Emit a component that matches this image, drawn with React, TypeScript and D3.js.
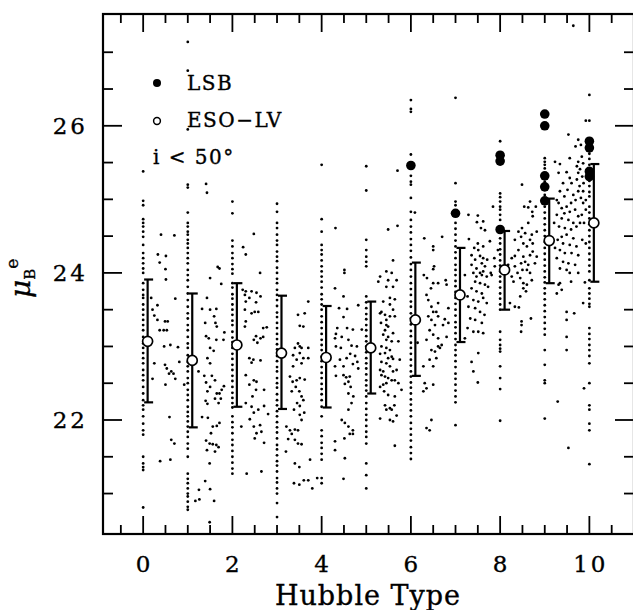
import React from 'react';
import * as d3 from 'd3';

// ---------- data ----------
const HUBBLE_TYPES = [0, 1, 2, 3, 4, 5, 6, 7, 8, 9, 10];

// ESO-LV galaxies with integer Hubble type (mu_B^e values)
const COL_0 = [25.38, 24.98, 24.92, 24.73, 24.68, 24.63, 24.56, 24.49, 24.38, 24.27, 24.2, 24.13, 24.06, 24.0, 23.86, 23.77, 23.7, 23.66, 23.57, 23.5, 23.43, 23.36, 23.29, 23.22, 23.13, 23.04, 22.98, 22.91, 22.84, 22.77, 22.68, 22.61, 22.54, 22.45, 22.36, 22.27, 22.2, 22.14, 22.05, 21.95, 21.86, 21.8, 21.5, 21.41, 21.36, 21.32, 20.81];
const COL_1 = [27.14, 26.75, 25.95, 25.2, 25.16, 24.82, 24.68, 24.63, 24.56, 24.52, 24.45, 24.4, 24.34, 24.27, 24.2, 24.13, 24.04, 23.97, 23.9, 23.81, 23.72, 23.63, 23.54, 23.45, 23.38, 23.29, 23.22, 23.13, 23.04, 22.98, 22.88, 22.79, 22.73, 22.66, 22.57, 22.5, 22.41, 22.34, 22.27, 22.18, 22.11, 22.05, 21.98, 21.91, 21.84, 21.77, 21.68, 21.61, 21.5, 21.27, 21.2, 21.14, 21.07, 21.0, 20.96, 20.89, 20.82, 20.78];
const COL_2 = [24.97, 24.81, 24.44, 24.36, 24.27, 24.2, 24.12, 24.05, 23.99, 23.86, 23.8, 23.71, 23.65, 23.57, 23.5, 23.43, 23.35, 23.29, 23.2, 23.12, 23.06, 22.98, 22.9, 22.83, 22.75, 22.68, 22.6, 22.53, 22.45, 22.37, 22.3, 22.23, 22.17, 22.05, 21.97, 21.9, 21.82, 21.73, 21.66, 21.58, 21.5, 21.42, 21.34, 21.27];
const COL_3 = [24.94, 24.83, 24.68, 24.61, 24.52, 24.44, 24.38, 24.29, 24.22, 24.16, 24.07, 24.0, 23.92, 23.86, 23.77, 23.7, 23.63, 23.55, 23.46, 23.4, 23.32, 23.25, 23.17, 23.1, 23.03, 22.96, 22.87, 22.8, 22.72, 22.66, 22.57, 22.5, 22.44, 22.35, 22.27, 22.2, 22.12, 22.05, 21.97, 21.9, 21.83, 21.75, 21.66, 21.6, 21.52, 21.44, 21.38, 21.3, 21.21, 21.15, 21.07, 21.0, 20.87, 20.68];
const COL_4 = [25.47, 24.73, 24.56, 24.38, 24.31, 24.25, 24.17, 24.09, 24.02, 23.95, 23.88, 23.8, 23.71, 23.64, 23.57, 23.5, 23.41, 23.33, 23.25, 23.17, 23.09, 23.02, 22.95, 22.86, 22.8, 22.72, 22.64, 22.57, 22.49, 22.42, 22.35, 22.27, 22.18, 22.05, 21.86, 21.78, 21.69, 21.62, 21.54, 21.46, 21.21, 21.14];
const COL_5 = [25.45, 25.12, 24.45, 24.31, 24.22, 24.15, 24.09, 23.68, 23.6, 23.52, 23.44, 23.37, 23.29, 23.22, 23.14, 23.07, 23.0, 22.92, 22.84, 22.77, 22.7, 22.62, 22.54, 22.47, 22.4, 22.32, 22.23, 22.15, 22.07, 22.0, 21.92, 21.84, 21.77, 21.68, 21.41, 21.25, 21.07];
const COL_6 = [26.35, 26.23, 26.19, 25.61, 25.32, 25.24, 25.2, 25.02, 24.83, 24.72, 24.63, 24.55, 24.46, 24.38, 24.3, 24.21, 24.12, 24.04, 23.95, 23.86, 23.78, 23.7, 23.61, 23.54, 23.45, 23.38, 23.3, 23.21, 23.14, 23.05, 22.98, 22.9, 22.82, 22.74, 22.66, 22.59, 22.51, 22.44, 22.36, 22.28, 22.21, 22.13, 22.05, 21.96, 21.88, 21.8, 21.72, 21.63, 21.55, 21.47];
const COL_7 = [26.38, 25.22, 24.97, 24.92, 24.68, 24.6, 24.52, 24.44, 24.36, 24.28, 24.2, 24.11, 24.04, 23.97, 23.89, 23.82, 23.74, 23.66, 23.58, 23.5, 23.42, 23.33, 23.26, 23.18, 23.1, 23.02, 22.95, 22.88, 22.8, 22.72, 22.63, 22.56, 22.48, 22.4, 22.32, 22.24, 21.93];
const COL_8 = [25.79, 25.08, 25.03, 24.97, 24.9, 24.86, 24.79, 24.72, 24.55, 24.47, 24.4, 24.32, 24.25, 24.17, 24.1, 24.02, 23.95, 23.88, 23.8, 23.72, 23.65, 23.57, 23.5, 23.2, 23.09, 23.02, 22.97, 22.93, 22.73, 22.57, 22.42, 21.99];
const COL_9 = [25.56, 25.51, 25.47, 25.42, 25.24, 25.06, 24.9, 24.82, 24.74, 24.66, 24.58, 24.5, 24.42, 24.34, 24.26, 24.18, 24.1, 24.02, 23.94, 23.87, 23.79, 23.72, 23.64, 23.56, 23.48, 23.4, 23.32, 23.24, 23.16, 22.95, 22.75, 22.54, 22.5, 22.02];
const COL_10 = [26.42, 26.07, 25.62, 25.55, 25.47, 25.4, 25.33, 25.25, 25.18, 25.1, 25.04, 24.9, 24.82, 24.74, 24.66, 24.58, 24.5, 24.42, 24.34, 24.26, 24.18, 24.1, 24.02, 23.9, 23.79, 23.72, 23.65, 23.58, 23.54, 23.25, 23.17, 23.1, 23.02, 22.95, 22.87, 22.77, 22.5, 22.2, 22.14, 21.95, 21.86, 21.4];
const COLUMN_MU = [COL_0, COL_1, COL_2, COL_3, COL_4, COL_5, COL_6, COL_7, COL_8, COL_9, COL_10];

// ESO-LV galaxies with non-integer type: [type, mu]
const GAP_0 = [[0.40, 24.52], [0.70, 24.51], [0.33, 24.25], [0.51, 24.23], [0.37, 24.14], [0.50, 24.05], [0.51, 23.91], [0.18, 23.66], [0.72, 23.65], [0.32, 23.56], [0.21, 23.50], [0.25, 23.42], [0.32, 23.36], [0.49, 23.34], [0.55, 23.34], [0.37, 23.22], [0.46, 23.22], [0.53, 23.22], [0.61, 23.02], [0.47, 23.00], [0.78, 22.99], [0.81, 22.79], [0.25, 22.77], [0.49, 22.75], [0.53, 22.70], [0.63, 22.66], [0.68, 22.63], [0.58, 22.63], [0.72, 22.56], [0.50, 22.48], [0.21, 22.56], [0.92, 22.48], [0.59, 22.04], [0.63, 21.73], [0.70, 21.68], [0.38, 21.44], [0.61, 21.46]];
const GAP_1 = [[1.41, 25.21], [1.43, 25.09], [1.67, 24.08], [1.71, 24.06], [1.50, 23.93], [1.75, 23.85], [1.43, 23.66], [1.32, 23.51], [1.50, 23.50], [1.64, 23.51], [1.59, 23.41], [1.39, 23.32], [1.62, 23.32], [1.65, 23.27], [1.82, 23.19], [1.41, 23.14], [1.47, 23.11], [1.64, 23.09], [1.80, 23.09], [1.50, 22.98], [1.58, 22.94], [1.44, 22.84], [1.50, 22.77], [1.24, 22.66], [1.37, 22.60], [1.54, 22.60], [1.41, 22.51], [1.61, 22.54], [1.50, 22.45], [1.44, 22.39], [1.65, 22.36], [1.81, 22.46], [1.76, 22.41], [1.71, 22.36], [1.61, 22.29], [1.74, 22.29], [1.40, 22.26], [1.44, 22.22], [1.69, 22.23], [1.32, 22.04], [1.45, 22.03], [1.56, 21.91], [1.65, 21.92], [1.71, 21.96], [1.52, 21.82], [1.41, 21.72], [1.49, 21.68], [1.56, 21.67], [1.64, 21.66], [1.69, 21.63], [1.43, 21.59], [1.61, 21.57], [1.49, 21.41], [1.39, 21.17], [1.50, 21.06], [1.25, 21.05], [1.17, 20.90], [1.26, 20.92], [1.59, 20.90], [1.49, 20.61]];
const GAP_2 = [[2.48, 24.53], [2.24, 24.35], [2.30, 24.25], [2.62, 24.00], [2.23, 23.77], [2.30, 23.75], [2.43, 23.75], [2.54, 23.73], [2.28, 23.70], [2.38, 23.66], [2.63, 23.68], [2.30, 23.61], [2.53, 23.60], [2.28, 23.50], [2.43, 23.45], [2.50, 23.47], [2.58, 23.47], [2.30, 23.34], [2.77, 23.26], [2.69, 23.25], [2.28, 23.27], [2.53, 23.14], [2.63, 23.11], [2.69, 23.13], [2.48, 23.09], [2.56, 23.05], [2.38, 22.84], [2.47, 22.82], [2.43, 22.78], [2.63, 22.81], [2.30, 22.61], [2.48, 22.54], [2.54, 22.52], [2.38, 22.48], [2.71, 22.41], [2.53, 22.41], [2.45, 22.32], [2.30, 22.23], [2.43, 22.18], [2.71, 22.19], [2.58, 22.14], [2.48, 22.10], [2.39, 22.01], [2.80, 22.08], [2.48, 21.91], [2.62, 21.93], [2.20, 21.91], [2.54, 21.82], [2.65, 21.84], [2.50, 21.75], [2.71, 21.69], [2.32, 21.27], [2.65, 21.30]];
const GAP_3 = [[3.70, 23.61], [3.47, 23.43], [3.62, 23.45], [3.51, 23.28], [3.59, 23.27], [3.47, 23.04], [3.51, 23.00], [3.55, 22.98], [3.40, 22.98], [3.70, 22.98], [3.36, 22.88], [3.51, 22.91], [3.59, 22.84], [3.70, 22.84], [3.44, 22.82], [3.55, 22.77], [3.36, 22.73], [3.29, 22.59], [3.35, 22.52], [3.44, 22.54], [3.51, 22.57], [3.62, 22.55], [3.42, 22.45], [3.33, 22.39], [3.50, 22.39], [3.55, 22.32], [3.59, 22.27], [3.45, 22.23], [3.51, 22.19], [3.38, 22.14], [3.61, 22.10], [3.51, 22.07], [3.55, 22.00], [3.21, 21.91], [3.29, 21.86], [3.40, 21.87], [3.47, 21.86], [3.33, 21.81], [3.25, 21.74], [3.40, 21.73], [3.47, 21.68], [3.55, 21.67], [3.20, 21.57], [3.74, 21.46], [3.40, 21.41], [3.50, 21.36], [3.38, 21.14], [3.50, 21.12], [3.60, 21.18], [3.70, 21.18], [3.79, 21.07], [3.90, 21.21]];
const GAP_4 = [[4.31, 24.61], [4.51, 24.04], [4.51, 24.00], [4.30, 23.79], [4.49, 23.68], [4.39, 23.52], [4.57, 23.51], [4.82, 23.56], [4.49, 23.40], [4.35, 23.25], [4.57, 23.25], [4.70, 23.23], [4.90, 23.23], [4.32, 23.17], [4.30, 23.11], [4.45, 23.13], [4.60, 23.09], [4.32, 23.00], [4.43, 22.98], [4.67, 23.01], [4.79, 23.00], [4.64, 22.90], [4.41, 22.82], [4.56, 22.84], [4.75, 22.87], [4.80, 22.79], [4.82, 22.70], [4.70, 22.76], [4.30, 22.73], [4.49, 22.73], [4.32, 22.60], [4.49, 22.61], [4.55, 22.58], [4.60, 22.52], [4.63, 22.59], [4.52, 22.49], [4.65, 22.45], [4.60, 22.36], [4.71, 22.32], [4.67, 22.23], [4.60, 22.14], [4.45, 22.00], [4.52, 21.96], [4.60, 21.91], [4.70, 21.86], [4.63, 21.81], [4.70, 21.81], [4.51, 21.75], [4.30, 21.71], [4.30, 21.59], [4.52, 21.48], [4.49, 21.20]];
const GAP_5 = [[5.70, 25.39], [5.49, 24.59], [5.70, 24.64], [5.60, 24.17], [5.31, 23.95], [5.45, 24.02], [5.57, 24.00], [5.27, 23.88], [5.49, 23.90], [5.68, 23.90], [5.60, 23.81], [5.45, 23.81], [5.53, 23.66], [5.38, 23.61], [5.64, 23.64], [5.53, 23.57], [5.34, 23.47], [5.60, 23.50], [5.31, 23.45], [5.42, 23.43], [5.53, 23.41], [5.64, 23.41], [5.45, 23.36], [5.33, 23.32], [5.45, 23.29], [5.49, 23.27], [5.42, 23.22], [5.60, 23.18], [5.38, 23.16], [5.49, 23.13], [5.45, 23.09], [5.57, 23.07], [5.72, 23.07], [5.34, 23.00], [5.45, 22.98], [5.53, 22.95], [5.42, 22.91], [5.31, 22.90], [5.57, 22.86], [5.49, 22.84], [5.60, 22.83], [5.75, 22.82], [5.34, 22.79], [5.45, 22.77], [5.53, 22.73], [5.31, 22.68], [5.38, 22.66], [5.60, 22.66], [5.68, 22.68], [5.34, 22.61], [5.42, 22.59], [5.49, 22.57], [5.57, 22.54], [5.64, 22.54], [5.31, 22.45], [5.38, 22.48], [5.45, 22.50], [5.72, 22.50], [5.79, 22.41], [5.40, 22.39], [5.49, 22.34], [5.64, 22.32], [5.42, 22.20], [5.53, 22.16], [5.63, 22.20], [5.45, 22.14], [5.57, 22.14], [5.31, 22.02], [5.53, 22.00], [5.60, 21.98], [5.68, 22.06], [5.64, 21.65]];
const GAP_6 = [[6.09, 24.82], [6.30, 24.47], [6.70, 24.49], [6.50, 24.36], [6.50, 24.31], [6.52, 24.09], [6.50, 24.05], [6.29, 23.97], [6.36, 23.93], [6.50, 23.86], [6.61, 23.86], [6.78, 23.90], [6.80, 23.84], [6.45, 23.79], [6.35, 23.70], [6.39, 23.63], [6.61, 23.59], [6.46, 23.54], [6.50, 23.47], [6.57, 23.47], [6.84, 23.52], [6.39, 23.41], [6.61, 23.41], [6.46, 23.36], [6.76, 23.37], [6.84, 23.32], [6.54, 23.29], [6.72, 23.29], [6.42, 23.22], [6.50, 23.16], [6.35, 23.09], [6.61, 23.11], [6.80, 23.13], [6.46, 22.95], [6.61, 23.00], [6.54, 22.93], [6.69, 23.02], [6.65, 22.98], [6.57, 22.84], [6.42, 22.82], [6.28, 22.73], [6.50, 22.73], [6.31, 22.50], [6.35, 22.43], [6.28, 22.39], [6.50, 22.48], [6.46, 22.00], [6.35, 21.89], [6.42, 21.86], [6.15, 23.05]];
const GAP_7 = [[7.29, 24.79], [7.50, 24.78], [7.48, 24.69], [7.62, 24.70], [7.57, 24.61], [7.66, 24.58], [7.84, 24.90], [7.77, 24.43], [7.62, 24.36], [7.50, 24.40], [7.30, 24.46], [7.42, 24.34], [7.51, 24.31], [7.36, 24.24], [7.55, 24.23], [7.62, 24.20], [7.44, 24.18], [7.59, 24.13], [7.66, 24.09], [7.47, 24.06], [7.36, 24.11], [7.40, 24.00], [7.55, 24.00], [7.62, 24.02], [7.71, 24.18], [7.87, 24.20], [7.88, 24.09], [7.79, 24.00], [7.95, 24.31], [7.21, 23.97], [7.47, 23.95], [7.59, 23.97], [7.70, 23.95], [7.81, 23.97], [7.44, 23.88], [7.55, 23.86], [7.66, 23.84], [7.73, 23.81], [7.36, 23.79], [7.47, 23.75], [7.59, 23.72], [7.27, 23.68], [7.40, 23.63], [7.51, 23.61], [7.62, 23.66], [7.70, 23.59], [7.29, 23.54], [7.44, 23.52], [7.55, 23.47], [7.65, 23.43], [7.33, 23.38], [7.44, 23.36], [7.59, 23.32], [7.27, 23.25], [7.40, 23.20], [7.51, 23.20], [7.62, 23.18], [7.21, 23.11], [7.36, 22.79], [7.40, 22.66], [7.51, 22.91], [7.50, 22.51]];
const GAP_8 = [[8.49, 25.20], [8.67, 24.97], [8.54, 24.90], [8.63, 24.89], [8.72, 24.83], [8.80, 24.90], [8.73, 24.77], [8.49, 24.61], [8.63, 24.68], [8.41, 24.56], [8.33, 24.45], [8.56, 24.54], [8.47, 24.49], [8.52, 24.40], [8.71, 24.52], [8.82, 24.56], [8.67, 24.45], [8.73, 24.40], [8.60, 24.36], [8.41, 24.31], [8.26, 24.20], [8.33, 24.23], [8.52, 24.22], [8.67, 24.24], [8.73, 24.29], [8.82, 24.22], [8.47, 24.13], [8.56, 24.15], [8.63, 24.11], [8.18, 24.11], [8.11, 24.09], [8.33, 24.09], [8.78, 24.13], [8.50, 24.04], [8.60, 24.04], [8.67, 24.00], [8.39, 24.00], [8.26, 23.95], [8.45, 23.93], [8.30, 23.88], [8.52, 23.86], [8.71, 23.90], [8.60, 23.84], [8.52, 23.79], [8.58, 23.75], [8.45, 23.68], [8.33, 23.54], [8.42, 23.53], [8.22, 23.59], [8.69, 23.38], [8.48, 23.34], [8.48, 23.29], [8.47, 23.20]];
const GAP_9 = [[9.64, 27.36], [9.53, 25.88], [9.92, 26.07], [9.75, 25.81], [9.81, 25.74], [9.69, 25.72], [9.56, 25.56], [9.23, 25.51], [9.34, 25.48], [9.75, 25.51], [9.83, 25.58], [9.86, 25.49], [9.72, 25.45], [9.79, 25.41], [9.31, 25.36], [9.49, 25.37], [9.56, 25.29], [9.75, 25.36], [9.84, 25.31], [9.72, 25.27], [9.87, 25.22], [9.78, 25.18], [9.41, 25.22], [9.60, 25.22], [9.51, 25.13], [9.34, 25.11], [9.44, 25.04], [9.64, 25.06], [9.75, 25.11], [9.86, 25.11], [9.81, 25.02], [9.69, 24.99], [9.86, 24.95], [9.92, 24.99], [9.59, 24.95], [9.49, 24.90], [9.38, 24.88], [9.31, 24.95], [9.27, 24.99], [9.44, 24.81], [9.56, 24.83], [9.68, 24.86], [9.75, 24.77], [9.83, 24.79], [9.92, 24.86], [9.64, 24.68], [9.53, 24.72], [9.38, 24.74], [9.27, 24.79], [9.21, 24.68], [9.32, 24.63], [9.45, 24.61], [9.59, 24.59], [9.71, 24.63], [9.79, 24.68], [9.88, 24.68], [9.38, 24.49], [9.49, 24.52], [9.64, 24.47], [9.29, 24.45], [9.41, 24.40], [9.56, 24.38], [9.71, 24.36], [9.23, 24.34], [9.34, 24.31], [9.45, 24.27], [9.60, 24.27], [9.75, 24.24], [9.27, 24.20], [9.41, 24.15], [9.53, 24.13], [9.68, 24.11], [9.34, 24.06], [9.49, 24.04], [9.56, 24.00], [9.75, 24.00], [9.92, 24.40], [9.84, 24.45], [9.31, 23.84], [9.34, 23.86], [9.27, 23.72], [9.38, 23.77], [9.59, 23.88], [9.49, 23.47], [9.66, 23.45], [9.49, 23.36], [9.49, 23.13], [9.49, 22.95], [9.29, 22.25], [9.53, 21.62], [9.86, 23.59], [9.90, 23.87], [9.88, 22.43]];
const GAP_POINTS = [GAP_0, GAP_1, GAP_2, GAP_3, GAP_4, GAP_5, GAP_6, GAP_7, GAP_8, GAP_9];

// ESO-LV mean and spread per type
const MEAN_MU = [23.07, 22.81, 23.02, 22.91, 22.85, 22.98, 23.36, 23.70, 24.04, 24.44, 24.68];
const LOW_MU = [22.24, 21.90, 22.18, 22.15, 22.17, 22.36, 22.60, 23.06, 23.50, 23.86, 23.88];
const HIGH_MU = [23.91, 23.72, 23.86, 23.69, 23.55, 23.61, 24.14, 24.34, 24.57, 25.01, 25.48];

// LSB galaxies
const LSB_TYPE = [6, 7, 8, 8, 8, 9, 9, 9, 9, 9, 10, 10, 10, 10];
const LSB_MU = [25.46, 24.81, 25.6, 25.52, 24.59, 26.16, 26.0, 25.32, 25.17, 24.98, 25.79, 25.7, 25.38, 25.31];

const X_TICK_LABELS = [0, 2, 4, 6, 8, 10];
const Y_TICK_LABELS = [22, 24, 26];
const LEGEND_LABELS = ['LSB', 'ESO\u2212LV', 'i < 50\u00b0'];

// ---------- chart ----------
export default function App() {
  const W = 633;
  const H = 610;
  const left = 103, right = 634, top = 14, bottom = 534;
  const x = d3.scaleLinear().domain([-0.9, 11.0]).range([left, right]);
  const y = d3.scaleLinear().domain([20.45, 27.52]).range([bottom, top]);
  const font = '"DejaVu Serif", serif';
  const txtStroke = { stroke: '#000', strokeWidth: 0.35 };

  const xTicks = d3.range(-0.5, 10.75, 0.5);
  const yTicks = d3.range(21, 27.25, 0.5);
  const isMajor = (v: number) => Math.abs(v / 2 - Math.round(v / 2)) < 1e-6;

  const dotR = 1.4;
  const off = 0.1;

  return (
    <svg width={W} height={H} style={{ position: 'absolute', left: 0, top: 0, background: '#fff' }}>
      {/* integer-type columns */}
      {COLUMN_MU.map((col, t) =>
        col.map((m, i) => (
          <circle key={`c${t}-${i}`} cx={x(HUBBLE_TYPES[t])} cy={y(m)} r={dotR} fill="#000" />
        ))
      )}
      {/* scattered (non-integer) */}
      {GAP_POINTS.map((g, k) =>
        g.map((p, i) => <circle key={`g${k}-${i}`} cx={x(p[0])} cy={y(p[1])} r={dotR} fill="#000" />)
      )}
      {/* error bars */}
      {HUBBLE_TYPES.map((t, i) => {
        const bx = x(t + off);
        return (
          <g key={`e${i}`} stroke="#000" fill="none">
            <line x1={bx} x2={bx} y1={y(LOW_MU[i])} y2={y(HIGH_MU[i])} strokeWidth={2.2} />
            <line x1={bx - 3.5} x2={bx + 5.5} y1={y(LOW_MU[i])} y2={y(LOW_MU[i])} strokeWidth={2.2} />
            <line x1={bx - 3.5} x2={bx + 5.5} y1={y(HIGH_MU[i])} y2={y(HIGH_MU[i])} strokeWidth={2.2} />
            <circle cx={bx} cy={y(MEAN_MU[i])} r={5} fill="#fff" strokeWidth={1.7} />
          </g>
        );
      })}
      {/* LSB */}
      {LSB_TYPE.map((t, i) => (
        <circle key={`l${i}`} cx={x(t)} cy={y(LSB_MU[i])} r={4.8} fill="#000" />
      ))}

      {/* frame */}
      <rect x={left} y={top} width={right - left} height={bottom - top} fill="none" stroke="#000" strokeWidth={2.2} />
      {/* x ticks bottom & top */}
      {xTicks.map((v, i) => {
        const len = isMajor(v) ? 18 : 9;
        return (
          <g key={`xt${i}`} stroke="#000" strokeWidth={1.8}>
            <line x1={x(v)} x2={x(v)} y1={bottom} y2={bottom - len} />
            <line x1={x(v)} x2={x(v)} y1={top} y2={top + len} />
          </g>
        );
      })}
      {/* y ticks left & right */}
      {yTicks.map((v, i) => {
        const len = isMajor(v) ? 19 : 10;
        return (
          <g key={`yt${i}`} stroke="#000" strokeWidth={1.8}>
            <line x1={left} x2={left + len} y1={y(v)} y2={y(v)} />
            <line x1={right} x2={right - len} y1={y(v)} y2={y(v)} />
          </g>
        );
      })}
      {/* tick labels */}
      {X_TICK_LABELS.map((v) => (
        <text key={`xl${v}`} x={x(v) + 1.5} y={572} textAnchor="middle" fontFamily={font} fontSize={23} letterSpacing={3} {...txtStroke}>
          {v}
        </text>
      ))}
      {Y_TICK_LABELS.map((v) => (
        <text key={`yl${v}`} x={88} y={y(v) + 8.5} textAnchor="end" fontFamily={font} fontSize={23} letterSpacing={3} {...txtStroke}>
          {v}
        </text>
      ))}
      {/* axis titles */}
      <text x={368} y={605} textAnchor="middle" fontFamily={font} fontSize={27} letterSpacing={1} {...txtStroke}>
        Hubble Type
      </text>
      <text transform="translate(30,298) rotate(-90)" fontFamily={font} fontSize={28} {...txtStroke}>
        <tspan fontStyle="italic">μ</tspan>
        <tspan fontSize={15} dy={5}>B</tspan>
        <tspan fontSize={17} dy={-17}>e</tspan>
      </text>

      {/* legend */}
      <circle cx={157} cy={83} r={4} fill="#000" />
      <text x={187} y={89.5} fontFamily={font} fontSize={20} letterSpacing={1.5} {...txtStroke}>{LEGEND_LABELS[0]}</text>
      <circle cx={157} cy={121} r={3.4} fill="none" stroke="#000" strokeWidth={1.5} />
      <text x={187} y={127} fontFamily={font} fontSize={20} letterSpacing={1.5} {...txtStroke}>{LEGEND_LABELS[1]}</text>
      <text x={153} y={164} fontFamily={font} fontSize={20} letterSpacing={1.5} {...txtStroke}>{LEGEND_LABELS[2]}</text>
    </svg>
  );
}
